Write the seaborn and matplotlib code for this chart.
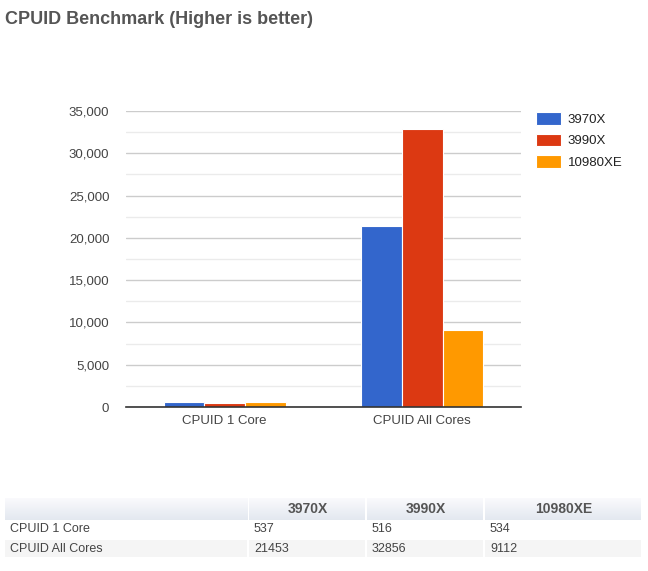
import numpy as np
import pandas as pd
import matplotlib
matplotlib.use("Agg")
import matplotlib.pyplot as plt
from matplotlib.patches import Rectangle
from matplotlib.ticker import FuncFormatter, MultipleLocator
import seaborn as sns

# dados
categorias = ["CPUID 1 Core", "CPUID All Cores"]
cpus = ["3970X", "3990X", "10980XE"]
valores_3970x = [537, 21453]
valores_3990x = [516, 32856]
valores_10980xe = [534, 9112]
cores = ["#3366cc", "#dc3912", "#ff9900"]

df = pd.DataFrame({
    "teste": categorias * 3,
    "cpu": [c for c in cpus for _ in categorias],
    "valor": valores_3970x + valores_3990x + valores_10980xe,
})

sns.set_theme(style="white")
plt.rcParams["font.family"] = ["Liberation Sans", "DejaVu Sans"]

W, H = 648, 571
fig = plt.figure(figsize=(W / 100, H / 100), dpi=100)


def fx(px):
    return px / W


def fy(py):
    return 1 - py / H


fig.text(fx(5), fy(19), "CPUID Benchmark (Higher is better)", fontsize=13,
         fontweight="bold", color="#555555", va="center", ha="left")

ax = fig.add_axes([fx(126), fy(407), fx(521) - fx(126), fy(111) - fy(407)])
sns.barplot(data=df, x="teste", y="valor", hue="cpu", palette=cores,
            width=0.62, edgecolor="white", linewidth=0.8, saturation=1,
            ax=ax)

ax.set_ylim(0, 35000)
ax.yaxis.set_major_locator(MultipleLocator(5000))
ax.yaxis.set_minor_locator(MultipleLocator(2500))
ax.yaxis.set_major_formatter(FuncFormatter(lambda v, p: f"{int(v):,}"))
ax.grid(axis="y", which="major", color="#cccccc", linewidth=1)
ax.grid(axis="y", which="minor", color="#ebebeb", linewidth=1)
ax.set_axisbelow(True)
for s in ["top", "right", "left"]:
    ax.spines[s].set_visible(False)
ax.spines["bottom"].set_color("#333333")
ax.spines["bottom"].set_linewidth(1.2)
ax.tick_params(axis="both", which="both", length=0, labelsize=9.5,
               labelcolor="#444444")
ax.tick_params(axis="y", pad=12)
ax.tick_params(axis="x", pad=6)
ax.set_xlabel("")
ax.set_ylabel("")

handles, labels = ax.get_legend_handles_labels()
ax.legend(handles, labels, loc="upper left", bbox_to_anchor=(fx(524), fy(100)),
          bbox_transform=fig.transFigure, frameon=False, fontsize=9.5,
          handlelength=1.9, handleheight=1.1, handletextpad=0.5,
          labelspacing=0.6, labelcolor="#222222")

# tabela
col_x = [5, 249, 367, 485, 643]
hdr_top, hdr_bot = 498, 520
rows_y = [(521, 538), (540, 557)]

grad = np.linspace(0, 1, 50).reshape(-1, 1)
for i in range(4):
    gax = fig.add_axes([fx(col_x[i]), fy(hdr_bot), fx(col_x[i + 1] - 2) - fx(col_x[i]),
                        fy(hdr_top) - fy(hdr_bot)])
    top_c = np.array([0.98, 0.98, 0.99])
    bot_c = np.array([0.89, 0.91, 0.94])
    img = top_c + (bot_c - top_c) * grad[:, :, None]
    gax.imshow(img, aspect="auto", extent=[0, 1, 1, 0])
    gax.axis("off")

for j, (y0, y1) in enumerate(rows_y):
    cor_fundo = "#ffffff" if j == 0 else "#f5f5f5"
    for i in range(4):
        fig.patches.append(Rectangle((fx(col_x[i]), fy(y1)),
                                     fx(col_x[i + 1] - 2) - fx(col_x[i]),
                                     fy(y0) - fy(y1), transform=fig.transFigure,
                                     facecolor=cor_fundo, edgecolor="none"))

centros = [(col_x[i] + col_x[i + 1]) / 2 for i in range(1, 4)]
for c, nome in zip(centros, cpus):
    fig.text(fx(c), fy(509), nome, fontsize=10, fontweight="bold",
             color="#555555", ha="center", va="center")

linhas = [
    [categorias[0], valores_3970x[0], valores_3990x[0], valores_10980xe[0]],
    [categorias[1], valores_3970x[1], valores_3990x[1], valores_10980xe[1]],
]
for (y0, y1), linha in zip(rows_y, linhas):
    yc = (y0 + y1) / 2
    for i, v in enumerate(linha):
        fig.text(fx(col_x[i] + 5), fy(yc), str(v), fontsize=9,
                 color="#444444", ha="left", va="center")

fig.savefig("out.png", dpi=100)
